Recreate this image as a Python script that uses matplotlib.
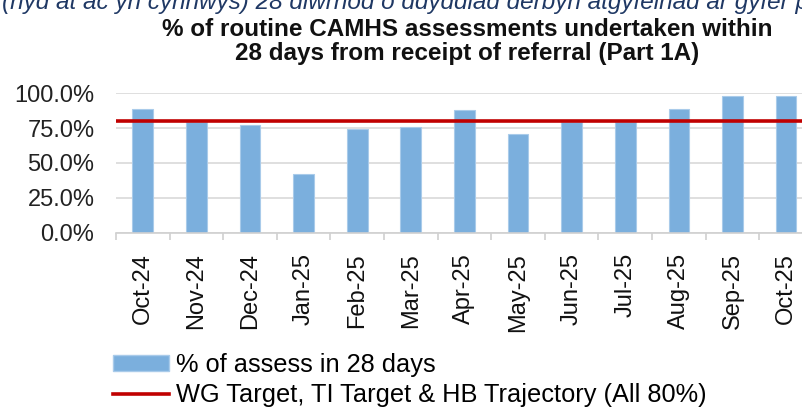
import matplotlib
matplotlib.use("Agg")
import matplotlib.pyplot as plt
from matplotlib.patches import Patch
from matplotlib.lines import Line2D
import numpy as np

plt.rcParams['font.family'] = ['Liberation Sans', 'DejaVu Sans']

months = ["Oct-24", "Nov-24", "Dec-24", "Jan-25", "Feb-25", "Mar-25", "Apr-25",
          "May-25", "Jun-25", "Jul-25", "Aug-25", "Sep-25", "Oct-25"]
pct_28_days = [88.8, 79.6, 76.9, 42.4, 74.3, 75.4, 87.6, 70.9, 79.5, 79.0, 88.8, 98.1, 98.1]
target = 80.0
yticks = [0, 25, 50, 75, 100]

fig = plt.figure(figsize=(8.02, 4.08), dpi=100)
ax = fig.add_axes([0.1446, 0.429, 0.869, 0.343])

x = np.arange(len(months))
ax.bar(x, pct_28_days, width=0.386, color="#7BAFDD", edgecolor="#A9CBEA", linewidth=0.8, zorder=2)
ax.axhline(target, color="#C00000", linewidth=2.6, zorder=3)

ax.set_xlim(-0.5, len(months) - 0.5)
ax.set_ylim(0, 100)
ax.set_yticks(yticks)
ax.set_yticklabels([f"{v:.1f}%" for v in yticks], fontsize=17, color="#222222")
ax.tick_params(axis='y', length=0, pad=15.5)
ax.grid(axis='y', color="#D9D9D9", linewidth=1.2, zorder=0)
ax.set_axisbelow(True)

ax.set_xticks(x)
ax.set_xticklabels(months, rotation=90, fontsize=17, color="#111111")
ax.tick_params(axis='x', which='major', length=0, pad=14.5)
ax.set_xticks(np.arange(len(months) + 1) - 0.5, minor=True)
ax.tick_params(axis='x', which='minor', length=5, color="#D0D0D0", width=1.2)

for s in ["top", "right", "left"]:
    ax.spines[s].set_visible(False)
ax.spines["bottom"].set_color("#D0D0D0")
ax.spines["bottom"].set_linewidth(1.2)

fig.text(0.583, 0.898, "% of routine CAMHS assessments undertaken within\n28 days from receipt of referral (Part 1A)",
         ha="center", va="center", fontsize=17.5, fontweight="bold", linespacing=1.07, color="#111111")
fig.text(0.002, 1 - 8.5 / 408, "(hyd at ac yn cynnwys) 28 diwrnod o ddyddiad derbyn atgyfeiriad ar gyfer p",
         ha="left", va="baseline", fontsize=17.5, style="italic", color="#1F3864")

handles = [Patch(facecolor="#7BAFDD", edgecolor="#A9CBEA"),
           Line2D([0], [0], color="#C00000", linewidth=2.6)]
labels = ["% of assess in 28 days", "WG Target, TI Target & HB Trajectory (All 80%)"]
fig.legend(handles, labels, loc="upper left", bbox_to_anchor=(0.141, 1 - 353 / 408), frameon=False,
           fontsize=18.3, handlelength=2.2, handleheight=0.55, handletextpad=0.28,
           labelspacing=0.25, borderpad=0, borderaxespad=0)

fig.savefig("out.png", dpi=100)
